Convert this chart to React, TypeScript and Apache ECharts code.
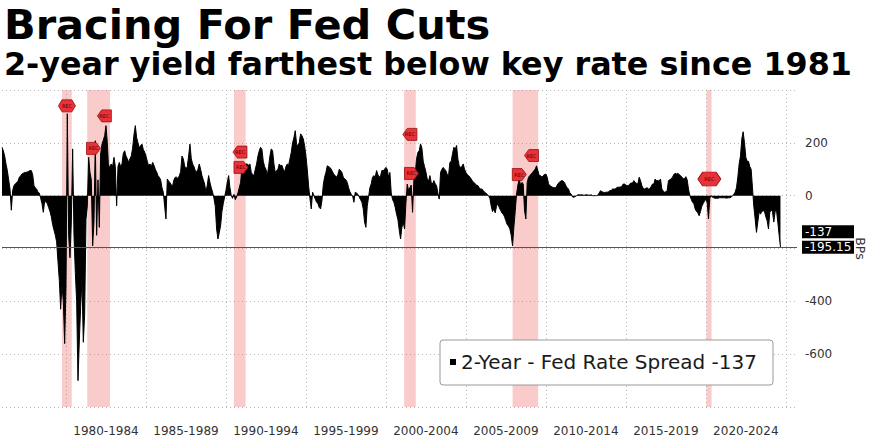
import React, { useEffect, useRef } from "react";
import * as echarts from "echarts";

const titleText = "Bracing For Fed Cuts";
const subtitleText = "2-year yield farthest below key rate since 1981";
const seriesName = "2-Year - Fed Rate Spread";
const legendValue = "-137";
const axisName = "BPs";

// Monthly spread values (bps), starting Jan 1976
const startYear = 1976;
const spread = [
  // 1976
  183, 170, 150, 120, 95, 60, 25, -55, 20, 38, 45, 50,
  // 1977
  55, 70, 75, 82, 85, 88, 88, 90, 92, 95, 95, 80,
  // 1978
  38, 30, 25, 13, 10, -10, -30, -63, -20, -25, -30, -45,
  // 1979
  -60, -80, -110, -130, -150, -175, -250, -320, -430, -340, -400, -560,
  // 1980
  -350, 310, -150, -235, -100, 177, -150, -290, -400, -700, -550, -420,
  // 1981
  -320, -555, -450, -90, -40, 145, 88, 60, -190, -100, 208, -150,
  // 1982
  60, -120, 158, 195, 210, 227, 265, 200, 100, 113, 120, 110,
  // 1983
  145, 110, -38, 110, 126, 110, 120, 160, 170, 150, 140, 126,
  // 1984
  140, 150, 180, 230, 265, 220, 200, 180, 190, 195, 175, 165,
  // 1985
  150, 130, 113, 120, 110, 126, 115, 100, 90, 76, 70, 60,
  // 1986
  30, 13, -40, -88, 63, 55, 50, 40, 38, 60, 70, 70,
  // 1987
  65, 75, 90, 150, 140, 113, 100, 110, 150, 195, 140, 120,
  // 1988
  110, 95, 90, 100, 120, 100, 76, 60, 44, 13, 40, 76,
  // 1989
  50, 30, 13, -10, -40, -126, -164, -140, -113, -60, -30, -5,
  // 1990
  20, 50, 76, 30, 0, -10, 5, -15, -5, 10, 30, 50,
  // 1991
  107, 115, 100, 120, 120, 115, 120, 88, 80, 76, 100, 120,
  // 1992
  150, 170, 183, 175, 130, 110, 100, 76, 110, 150, 177, 170,
  // 1993
  120, 88, 95, 100, 120, 113, 115, 100, 90, 110, 120, 115,
  // 1994
  140, 164, 200, 220, 246, 195, 190, 200, 234, 227, 215, 190,
  // 1995
  150, 100, 38, -10, -50, 13, 0, -13, -25, -30, -45, -50,
  // 1996
  -20, 40, 70, 88, 113, 110, 107, 100, 90, 80, 76, 70,
  // 1997
  80, 100, 95, 88, 70, 63, 60, 50, 30, 15, 5, 0,
  // 1998
  -25, 13, 10, 5, -5, -15, -25, -50, -100, -120, -40, -5,
  // 1999
  30, 45, 70, 76, 70, 95, 80, 70, 75, 95, 95, 100,
  // 2000
  107, 100, 70, 88, 10, -15, -25, -45, -70, -90, -130, -164,
  // 2001
  -120, -100, -126, -30, 44, 20, 30, 40, -63, 63, 82, 140,
  // 2002
  164, 170, 196, 180, 130, 110, 90, 63, 55, 76, 50, 44,
  // 2003
  57, 45, 38, 10, -13, 88, 100, 107, 100, 95, 80, 76,
  // 2004
  126, 130, 160, 183, 175, 190, 139, 113, 107, 110, 120, 100,
  // 2005
  88, 80, 76, 70, 63, 55, 50, 45, 40, 38, 30, 25,
  // 2006
  25, 20, 13, 10, 5, 0, -10, -40, -60, -50, -65, -40,
  // 2007
  -30, -45, -55, -65, -70, -80, -95, -110, -115, -126, -150, -190,
  // 2008
  -120, -60, 5, 40, 63, 40, 50, 45, -57, -88, 50, 70,
  // 2009
  76, 82, 88, 95, 100, 113, 95, 76, 76, 70, 76, 80,
  // 2010
  82, 70, 45, 38, 35, 32, 30, 30, 35, 45, 50, 55,
  // 2011
  57, 55, 50, 38, 30, 25, 10, 6, -5, -6, -3, 0,
  // 2012
  3, 3, 3, 3, 2, 2, 3, 3, 2, 2, 3, 0,
  // 2013
  0, 0, 0, 2, 10, 19, 15, 13, 12, 13, 13, 15,
  // 2014
  19, 20, 25, 25, 25, 30, 32, 32, 33, 35, 44, 44,
  // 2015
  40, 38, 38, 45, 48, 48, 57, 50, 47, 44, 70, 57,
  // 2016
  38, 28, 25, 28, 30, 25, 27, 35, 44, 44, 63, 57,
  // 2017
  57, 55, 63, 25, 18, 13, 15, 20, 57, 60, 65, 70,
  // 2018
  80, 85, 82, 85, 80, 76, 70, 65, 63, 72, 60, 25,
  // 2019
  0, -13, -25, -30, -50, -60, -65, -76, -60, -40, -30, -20,
  // 2020
  -15, -25, -88, -10, 0, -6, -8, -10, -10, -10, -8, -8,
  // 2021
  -8, -8, -8, -9, -9, -8, -8, -6, 0, 5, 13, 30,
  // 2022
  70, 120, 150, 215, 242, 200, 145, 130, 130, 110, 100, 30,
  // 2023
  -40, -88, -139, -100, -60, -70, -60, -57, -60, -80, -95, -126,
  // 2024
  -63, -55, -60, -100, -60, -55, -100, -150, -195.15,
];

// Recession shading (decimal years)
const recessionStarts = [1979.75, 1981.33, 1990.5, 2001.14, 2007.92, 2020.04];
const recessionEnds = [1980.36, 1982.75, 1991.23, 2001.87, 2009.52, 2020.36];

// "REC" event markers
const recYears = [1980.06, 1981.72, 1982.4, 1990.875, 1990.94, 2001.5, 2001.6, 2008.34, 2009.1, 2020.22];
const recValues = [340, 179, 302, 165, 107, 232, 84, 80, 152, 63];
const recShapes = ["both", "right", "left", "left", "right", "left", "right", "right", "left", "both"];

// Axis ticks
const gridYears = [1980, 1985, 1990, 1995, 2000, 2005, 2010, 2015, 2020, 2025];
const labelStartYears = [1980, 1985, 1990, 1995, 2000, 2005, 2010, 2015, 2020];
const hiddenYLabels = [400, -200, -800];

// Right-edge value tags
const tagValues = [-137, -195.15];

const shapePaths: Record<string, string> = {
  both: "path://M0,6 L5,0 L19,0 L24,6 L19,12 L5,12 Z",
  left: "path://M0,6 L5,0 L16,0 L16,12 L5,12 Z",
  right: "path://M0,0 L11,0 L16,6 L11,12 L0,12 Z",
};

export default function App() {
  const ref = useRef<HTMLDivElement>(null);

  useEffect(() => {
    if (!ref.current) return;
    const chart = echarts.init(ref.current, null, { renderer: "svg" });

    const lineData = spread.map((v, i) => [startYear + i / 12, v]);
    const markerData = recYears.map((y, i) => ({
      value: [y, recValues[i]],
      symbol: shapePaths[recShapes[i]],
      symbolSize: recShapes[i] === "both" ? (i === 0 ? [17, 12] : [23, 14]) : [14, 12],
    }));

    const tagLabel = (text: string) => ({
      show: true,
      position: "end",
      distance: 5,
      formatter: text,
      color: "#fff",
      backgroundColor: "#000",
      fontFamily: "DejaVu Sans",
      fontSize: 12,
      padding: [1, 3, 0, 3],
      width: 46,
      align: "left",
    });

    chart.setOption({
      animation: false,
      backgroundColor: "#fff",
      title: [
        {
          text: titleText,
          left: 4,
          top: 3,
          padding: 0,
          textStyle: { fontFamily: "DejaVu Sans", fontWeight: "bold", fontSize: 41.5, lineHeight: 42, color: "#000" },
        },
        {
          text: subtitleText,
          left: 4,
          top: 47,
          padding: 0,
          textStyle: { fontFamily: "DejaVu Sans", fontWeight: "bold", fontSize: 31.8, lineHeight: 32, color: "#000" },
        },
      ],
      grid: { left: 2, right: 72, top: 90, bottom: 32, containLabel: false, outerBoundsMode: "none" },
      legend: {
        data: [{ name: seriesName, icon: "rect" }],
        left: 440,
        top: 340,
        orient: "horizontal",
        itemWidth: 6,
        itemHeight: 6,
        padding: [10, 16, 11, 10],
        backgroundColor: "#fff",
        borderColor: "#999",
        borderWidth: 1,
        borderRadius: 3,
        formatter: (name: string) => `${name} ${legendValue}`,
        textStyle: { fontFamily: "DejaVu Sans", fontSize: 20, color: "#1a1a1a", lineHeight: 24 },
      },
      xAxis: {
        type: "value",
        min: startYear,
        max: 2025.7,
        axisLine: { show: false },
        axisTick: { show: false, customValues: gridYears },
        splitLine: { show: true, lineStyle: { color: "#b5b5b5", type: [1, 3], width: 1 } },
        axisLabel: {
          customValues: labelStartYears.map((s) => s + 2.5),
          formatter: (v: number) => {
            const s = Math.round(v - 2.5);
            return `${s}-${s + 4}`;
          },
          fontFamily: "DejaVu Sans",
          fontSize: 12,
          color: "#333",
          margin: 18,
        },
      },
      yAxis: {
        type: "value",
        position: "right",
        min: -800,
        max: 400,
        interval: 200,
        name: axisName,
        nameLocation: "middle",
        nameRotate: -90,
        nameGap: 57,
        nameTextStyle: { fontFamily: "DejaVu Sans", fontSize: 12.5, color: "#333" },
        axisLine: { show: false },
        axisTick: { show: false },
        splitLine: { show: true, lineStyle: { color: "#b5b5b5", type: [1, 3], width: 1 } },
        axisLabel: {
          formatter: (v: number) => (hiddenYLabels.includes(v) ? "" : String(v)),
          fontFamily: "DejaVu Sans",
          fontSize: 12,
          color: "#333",
          margin: 8,
        },
      },
      series: [
        {
          name: "recessions",
          type: "line",
          data: [],
          z: 1,
          silent: true,
          markArea: {
            silent: true,
            itemStyle: { color: "rgba(240,110,110,0.36)" },
            data: recessionStarts.map((s, i) => [{ xAxis: s }, { xAxis: recessionEnds[i] }]),
          },
        },
        {
          name: seriesName,
          type: "line",
          data: lineData,
          z: 3,
          showSymbol: false,
          symbol: "none",
          color: "#000",
          lineStyle: { color: "#000", width: 1 },
          areaStyle: { color: "#000", opacity: 1 },
          markLine: {
            silent: true,
            symbol: ["none", "none"],
            data: [
              {
                yAxis: tagValues[1],
                lineStyle: { color: "#555", width: 1, type: "solid" },
                label: tagLabel(String(tagValues[1])),
              },
              {
                yAxis: tagValues[0],
                lineStyle: { color: "rgba(0,0,0,0)", width: 1, type: "solid" },
                label: tagLabel(String(tagValues[0])),
              },
            ],
          },
        },
        {
          name: "REC",
          type: "scatter",
          z: 5,
          data: markerData,
          itemStyle: { color: "#e8323a", borderColor: "#9a1010", borderWidth: 0.8, opacity: 1 },
          label: {
            show: true,
            position: "inside",
            formatter: "REC",
            fontSize: 5,
            color: "#5a0000",
            fontFamily: "DejaVu Sans",
          },
        },
      ],
    });

    return () => chart.dispose();
  }, []);

  return (
    <div
      ref={ref}
      style={{ position: "fixed", left: 0, top: 0, width: 869, height: 439, background: "#fff" }}
    />
  );
}
